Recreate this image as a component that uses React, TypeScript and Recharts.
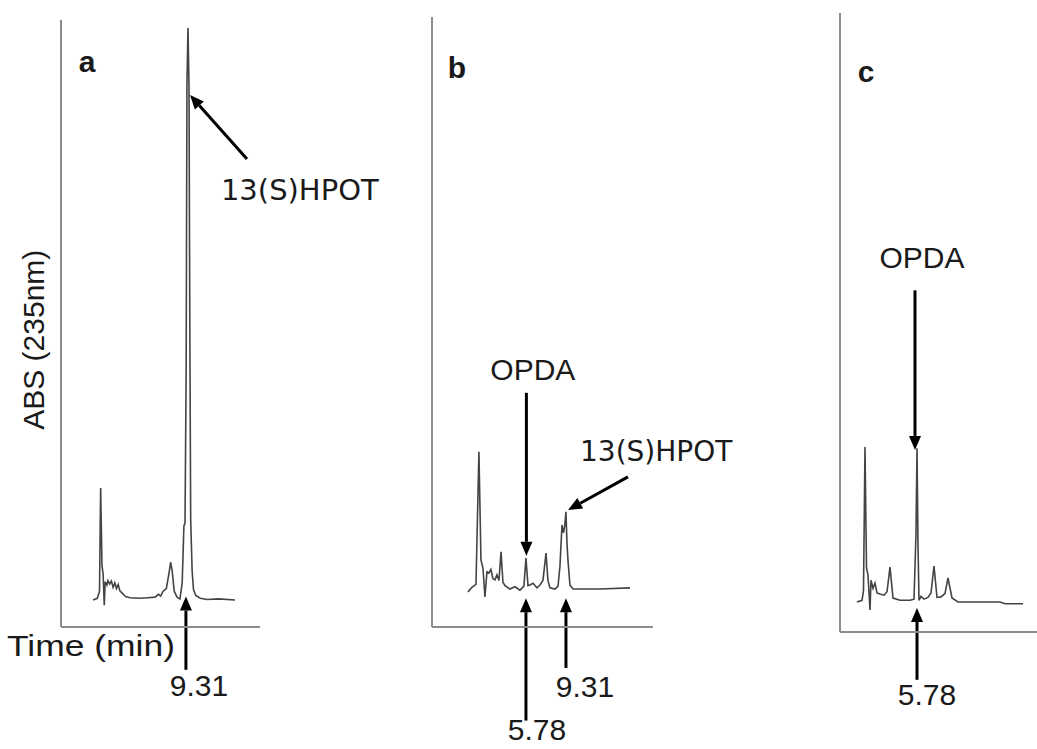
import { LineChart, Line, XAxis, YAxis, ReferenceLine, ReferenceDot } from 'recharts'

// panel a: 13(S)HPOT standard
const timeA = [0.93, 1.3, 1.5, 1.6, 1.72, 1.82, 1.92, 2.0, 2.15, 2.25, 2.4, 2.55, 2.7, 2.85, 3.0, 3.15, 3.3, 3.5, 3.8, 4.2, 5.0, 5.8, 6.4, 6.7, 6.9, 7.1, 7.4, 7.62, 7.78, 7.92, 8.1, 8.35, 8.6, 8.8, 8.95, 9.05, 9.15, 9.22, 9.31, 9.4, 9.47, 9.55, 9.68, 9.8, 10.0, 10.4, 11.0, 12.0, 13.46]
const absA = [0, 0.3, 1.5, 19.6, 6.0, 4.5, -0.9, 3.2, 2.6, 3.4, 2.8, 3.3, 2.2, 3.0, 2.0, 2.7, 1.6, 1.2, 0.6, 0.4, 0.3, 0.4, 0.5, 1.0, 0.7, 1.5, 2.0, 4.5, 6.6, 5.0, 1.5, 0.5, 0.2, 3.0, 12.9, 13.5, 40, 90, 100, 90, 50, 14, 5, 1.8, 0.8, 0.3, 0.1, 0.2, 0]

// panel b: reaction mixture
const timeB = [0.66, 1.01, 1.37, 1.63, 1.81, 1.99, 2.16, 2.34, 2.52, 2.69, 2.87, 3.05, 3.22, 3.4, 3.58, 3.75, 3.93, 4.37, 4.81, 5.25, 5.6, 5.78, 5.96, 6.13, 6.4, 6.75, 7.02, 7.28, 7.55, 7.72, 7.9, 8.34, 8.61, 8.78, 8.96, 9.09, 9.2, 9.31, 9.4, 9.49, 9.66, 9.93, 10.55, 12.31, 14.96]
const absB = [-0.5, 0.3, 0.8, 24.0, 5.1, 3.6, -1.4, 3.0, 2.8, 3.4, 1.8, 1.6, 2.5, 1.5, 6.5, 1.2, 0.6, 0.0, 0.4, -0.2, 0.5, 5.4, 0.6, 0.7, 1.0, 0.2, 0.7, 1.5, 6.3, 1.5, 0.2, 0.0, 0.5, 4.0, 11.2, 9.8, 11.0, 13.5, 8.0, 5.0, 0.7, 0.0, 0.0, 0.0, 0.2]

// panel c: purified product
const timeC = [0.98, 1.38, 1.5, 1.62, 1.74, 1.86, 2.02, 2.1, 2.26, 2.42, 2.58, 2.82, 3.14, 3.38, 3.62, 3.86, 4.42, 5.22, 5.54, 5.7, 5.78, 5.86, 5.94, 6.1, 6.34, 6.66, 6.9, 7.14, 7.38, 7.7, 8.02, 8.26, 8.58, 9.06, 12.42, 12.82, 14.26]
const absC = [0, 0.3, 2.0, 27.1, 6.0, 4.7, -1.4, 3.8, 2.4, 3.3, 1.6, 1.4, 1.2, 1.8, 6.1, 0.7, 0.3, 0.3, 0.5, 12, 26.9, 10, 0.3, 1.0, 0.5, 0.8, 1.6, 6.3, 0.8, 0.9, 1.5, 4.2, 0.7, 0, 0, -0.3, -0.3]

const dataA = timeA.map((t, i) => ({ t, v: absA[i] }))
const dataB = timeB.map((t, i) => ({ t, v: absB[i] }))
const dataC = timeC.map((t, i) => ({ t, v: absC[i] }))

const AXIS = '#8c8c8c'
const TRACE = '#444'
const SANS = '"Liberation Sans", Arial, sans-serif'
const WIDE = '"DejaVu Sans", Verdana, sans-serif'

const arrowShape = (props: any) => {
  const { x1, y1, x2, y2 } = props
  const dx = x2 - x1
  const dy = y2 - y1
  const len = Math.sqrt(dx * dx + dy * dy) || 1
  const ux = dx / len
  const uy = dy / len
  const head = 14
  const half = 6
  const bx = x2 - ux * head
  const by = y2 - uy * head
  return (
    <g>
      <line x1={x1} y1={y1} x2={bx} y2={by} stroke="#000" strokeWidth={3} />
      <polygon
        points={`${x2},${y2} ${bx - uy * half},${by + ux * half} ${bx + uy * half},${by - ux * half}`}
        fill="#000"
      />
    </g>
  )
}

const textShape = (label: string, opts: any = {}) => (p: any) => (
  <text
    x={p.cx}
    y={p.cy}
    textAnchor={opts.anchor || 'middle'}
    dominantBaseline="central"
    fontFamily={opts.font || SANS}
    fontSize={opts.size || 30}
    fontWeight={opts.bold ? 'bold' : 'normal'}
    fill="#1a1a1a"
    textLength={opts.length}
    lengthAdjust={opts.length ? 'spacingAndGlyphs' : undefined}
    transform={opts.rotate ? `rotate(${opts.rotate} ${p.cx} ${p.cy})` : undefined}
  >
    {label}
  </text>
)

const arrow = (key: string, from: number[], to: number[]) => (
  <ReferenceLine
    key={key}
    segment={[{ x: from[0], y: from[1] }, { x: to[0], y: to[1] }]}
    ifOverflow="visible"
    shape={arrowShape}
  />
)

const label = (key: string, t: number, v: number, text: string, opts: any = {}) => (
  <ReferenceDot key={key} x={t} y={v} ifOverflow="visible" shape={textShape(text, opts)} />
)

const axes = (xDomain: number[], yDomain: number[]) => [
  <XAxis
    key="x"
    dataKey="t"
    type="number"
    domain={xDomain}
    allowDataOverflow
    height={1}
    tick={false}
    tickLine={false}
    axisLine={{ stroke: AXIS, strokeWidth: 2 }}
  />,
  <YAxis
    key="y"
    type="number"
    domain={yDomain}
    allowDataOverflow
    width={1}
    tick={false}
    tickLine={false}
    axisLine={{ stroke: AXIS, strokeWidth: 2 }}
  />,
]

const trace = (
  <Line type="linear" dataKey="v" stroke={TRACE} strokeWidth={1.6} dot={false} isAnimationActive={false} />
)

export default function App() {
  return (
    <div style={{ position: 'absolute', left: 0, top: 0, width: 1037, height: 749, background: '#fff' }}>
      <div style={{ position: 'absolute', left: 0, top: 0 }}>
        <LineChart width={400} height={749} data={dataA} margin={{ top: 20, right: 140, bottom: 121, left: 60 }}>
          {axes([-1.9, 15.67], [-4.72, 101.4])}
          {trace}
          {arrow('a1', [14.52, 77.1], [9.49, 88.3])}
          {arrow('a2', [9.13, -12.2], [9.13, 0.6])}
          {label('la', 0.4, 94.1, 'a', { bold: true })}
          {label('lh', 12.22, 71.7, '13(S)HPOT', { anchor: 'start', font: WIDE, size: 29 })}
          {label('lt', 0.75, -7.87, 'Time (min)', { length: 168 })}
          {label('ly', -4.37, 45.5, 'ABS (235nm)', { rotate: -90 })}
          {label('l9', 10.28, -15.0, '9.31')}
        </LineChart>
      </div>
      <div style={{ position: 'absolute', left: 380, top: 0 }}>
        <LineChart width={400} height={749} data={dataB} margin={{ top: 17, right: 127, bottom: 121, left: 51 }}>
          {axes([-2.51, 16.99], [-6.64, 100])}
          {trace}
          {arrow('b1', [5.82, 34.3], [5.82, 5.8])}
          {arrow('b2', [14.78, 19.6], [9.49, 13.8])}
          {arrow('b3', [9.31, -13.8], [9.31, -1.6])}
          {arrow('b4', [5.78, -23.0], [5.78, -1.6])}
          {label('lb', -0.31, 91.1, 'b', { bold: true })}
          {label('lo', 6.39, 38.3, 'OPDA')}
          {label('lh', 10.55, 24.0, '13(S)HPOT', { anchor: 'start', font: WIDE, size: 28 })}
          {label('l9', 10.99, -17.0, '9.31')}
          {label('l5', 6.75, -24.6, '5.78')}
        </LineChart>
      </div>
      <div style={{ position: 'absolute', left: 790, top: 0 }}>
        <LineChart width={247} height={749} data={dataC} margin={{ top: 13, right: 0, bottom: 116, left: 49 }}>
          {axes([-0.38, 15.38], [-5.24, 103])}
          {trace}
          {arrow('c1', [5.62, 54.5], [5.62, 26.6])}
          {arrow('c2', [5.78, -13.6], [5.78, -1.05])}
          {label('lc', 1.7, 92.8, 'c', { bold: true })}
          {label('lo', 6.18, 60.3, 'OPDA')}
          {label('l5', 6.58, -16.1, '5.78')}
        </LineChart>
      </div>
    </div>
  )
}
